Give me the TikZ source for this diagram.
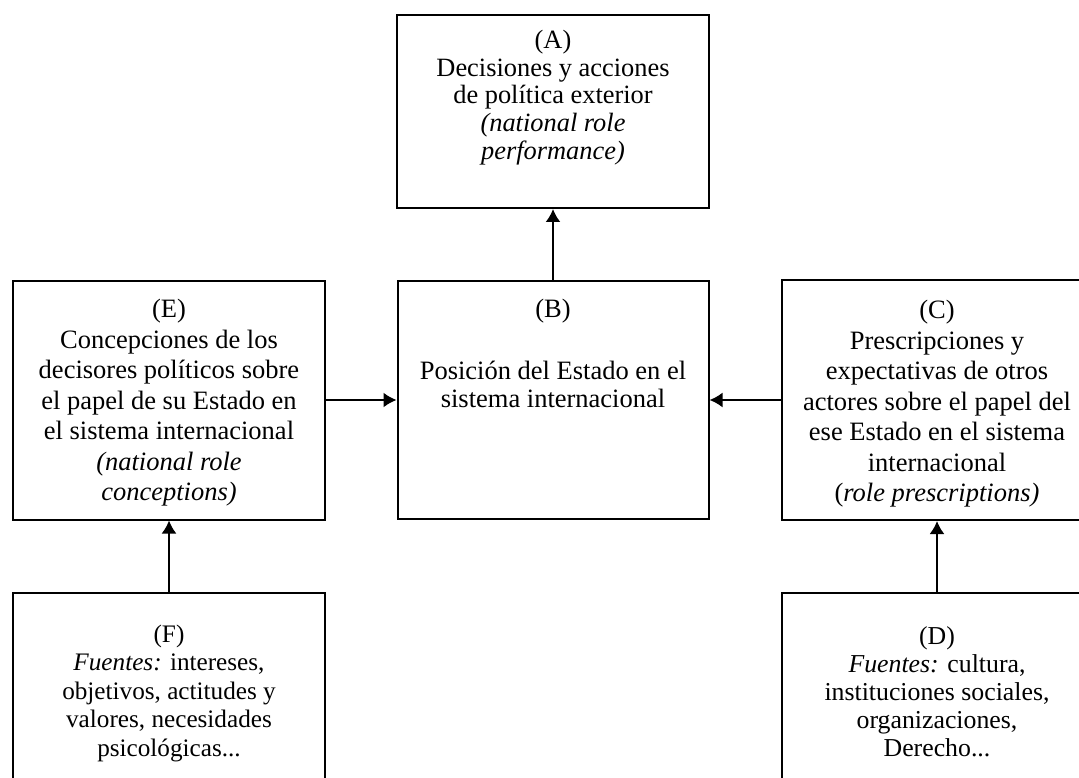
\documentclass[tikz,border=0pt]{standalone}
\usepackage{fontspec}
\setmainfont{Liberation Serif}
\usepackage{tikz}
\usetikzlibrary{positioning, arrows.meta}
\tikzstyle{box} = [draw, line width=2pt, minimum width=312pt, inner sep=0pt]
\tikzstyle{txt} = [align=center, inner sep=0pt, font=\fontsize{26.5}{30.5}\selectfont]
\tikzstyle{arrow} = [line width=2pt,-{Latex[length=13pt,width=15pt]}]

\begin{document}
\begin{tikzpicture}[x=1pt,y=-1pt]
	\useasboundingbox (0,0) rectangle (1079,778);
	\clip (0,0) rectangle (1079,778);
	\node[box, minimum height=193pt] (A) at (553,111.5) {};
	\node[box, minimum height=238pt, minimum width=311pt] (B) at (553,400) {};
	\node[box, minimum height=239pt] (E) at (169,400) {};
	\node[box, minimum height=240pt, minimum width=310pt] (C) at (937,400) {};
	\node[box, minimum height=200pt] (F) at (169,693) {};
	\node[box, minimum height=200pt, minimum width=310pt] (D) at (937,693) {};
	\node[txt, font=\fontsize{26.4}{27.7}\selectfont] (At) at (553,97.5) {(A)\\Decisiones y acciones\\de política exterior\\\textit{(national role}\\\textit{performance)}};
	\node[txt, font=\fontsize{26.5}{28}\selectfont] (Bt) at (553,353) {(B)\\[34pt]Posición del Estado en el\\sistema internacional};
	\node[txt] (Et) at (169,403) {(E)\\Concepciones de los\\decisores políticos sobre\\el papel de su Estado en\\el sistema internacional\\\textit{(national role}\\\textit{conceptions)}};
	\node[txt] (Ct) at (937,404) {(C)\\Prescripciones y\\expectativas de otros\\actores sobre el papel del\\ese Estado en el sistema\\internacional\\(\textit{role prescriptions)}};
	\node[txt, font=\fontsize{25.2}{28.5}\selectfont] (Ft) at (169,693) {(F)\\\textit{Fuentes:} intereses,\\objetivos, actitudes y\\valores, necesidades\\psicológicas...};
	\node[txt, font=\fontsize{25.8}{28}\selectfont] (Dt) at (937,692) {(D)\\\textit{Fuentes:} cultura,\\instituciones sociales,\\organizaciones,\\Derecho...};
	\draw[arrow] (B) -- (A);
	\draw[arrow] (E) -- (B);
	\draw[arrow] (C) -- (B);
	\draw[arrow] (F) -- (E);
	\draw[arrow] (D) -- (C);
\end{tikzpicture}
\end{document}
